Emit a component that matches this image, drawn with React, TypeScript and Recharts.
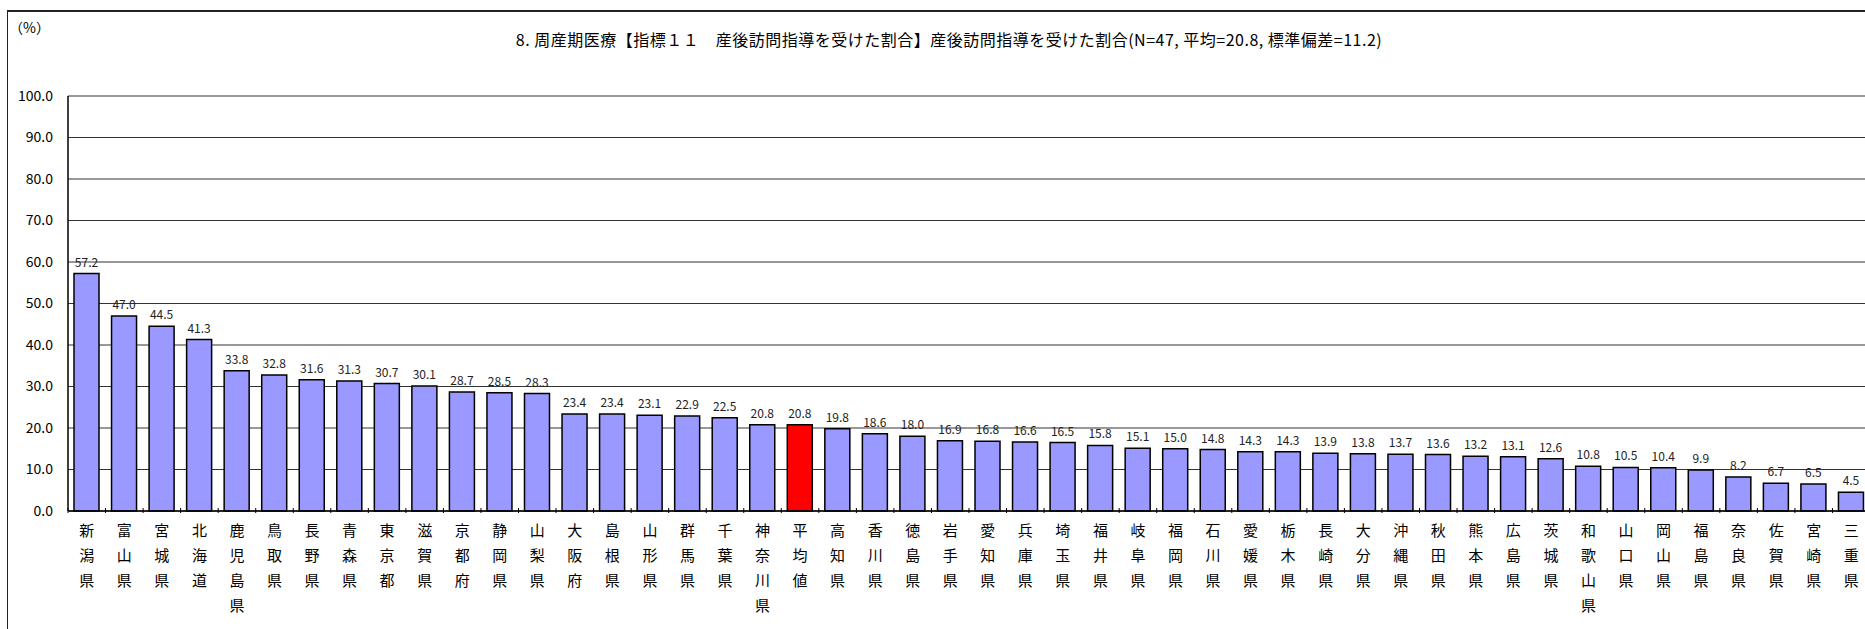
import React from 'react';
import { BarChart, Bar, XAxis, YAxis, CartesianGrid, Cell, LabelList } from 'recharts';

// --- data ---
const prefectures = [
  '新潟県', '富山県', '宮城県', '北海道', '鹿児島県', '鳥取県', '長野県', '青森県', '東京都', '滋賀県',
  '京都府', '静岡県', '山梨県', '大阪府', '島根県', '山形県', '群馬県', '千葉県', '神奈川県', '平均値',
  '高知県', '香川県', '徳島県', '岩手県', '愛知県', '兵庫県', '埼玉県', '福井県', '岐阜県', '福岡県',
  '石川県', '愛媛県', '栃木県', '長崎県', '大分県', '沖縄県', '秋田県', '熊本県', '広島県', '茨城県',
  '和歌山県', '山口県', '岡山県', '福島県', '奈良県', '佐賀県', '宮崎県', '三重県',
];

const rates = [
  57.2, 47.0, 44.5, 41.3, 33.8, 32.8, 31.6, 31.3, 30.7, 30.1,
  28.7, 28.5, 28.3, 23.4, 23.4, 23.1, 22.9, 22.5, 20.8, 20.8,
  19.8, 18.6, 18.0, 16.9, 16.8, 16.6, 16.5, 15.8, 15.1, 15.0,
  14.8, 14.3, 14.3, 13.9, 13.8, 13.7, 13.6, 13.2, 13.1, 12.6,
  10.8, 10.5, 10.4, 9.9, 8.2, 6.7, 6.5, 4.5,
];

const yTicks = [0, 10, 20, 30, 40, 50, 60, 70, 80, 90, 100];
const averageLabel = '平均値';

const title = '8. 周産期医療【指標１１　産後訪問指導を受けた割合】産後訪問指導を受けた割合(N=47, 平均=20.8, 標準偏差=11.2)';

const data = prefectures.map((name, i) => ({ name, value: rates[i] }));

const FONT = '"Noto Sans CJK JP", "Noto Sans", sans-serif';

const CHART_W = 1880;
const CHART_H = 629;
const PLOT_LEFT = 68;
const PLOT_RIGHT_MARGIN = 10;
const HALF_BAND = (CHART_W - PLOT_LEFT - PLOT_RIGHT_MARGIN) / prefectures.length / 2;

// vertical (tategaki) category label
const VerticalTick = (props: any) => {
  const { x, y, payload } = props;
  const chars = String(payload.value).split('');
  return (
    <g>
      <line x1={x - HALF_BAND} x2={x - HALF_BAND} y1={y - 6} y2={y - 11} stroke="#000" strokeWidth={1} />
      {chars.map((c, i) => (
        <text key={i} x={x} y={y + 10 + i * 25} textAnchor="middle" dominantBaseline="central"
          fontSize={15} fill="#000" fontFamily={FONT}>
          {c}
        </text>
      ))}
    </g>
  );
};

export default function App() {
  return (
    <div style={{ position: 'absolute', left: 0, top: 0, width: 1865, height: 629, overflow: 'hidden', background: '#fff' }}>
      <div style={{ position: 'absolute', left: 7, top: 10, width: 1900, height: 700, borderLeft: '1.5px solid #222', borderTop: '2px solid #222' }} />
      <div style={{ position: 'absolute', left: 9, top: 17, fontSize: 14, fontFamily: FONT, color: '#000' }}>（%）</div>
      <div style={{ position: 'absolute', left: 0, top: 27, width: 1898, textAlign: 'center', fontSize: 16, letterSpacing: 0.5, fontFamily: FONT, color: '#000', whiteSpace: 'nowrap' }}>
        {title}
      </div>
      <div style={{ position: 'absolute', left: 0, top: 0 }}>
        <BarChart width={CHART_W} height={CHART_H} data={data}
          margin={{ top: 96, right: PLOT_RIGHT_MARGIN, bottom: 0, left: 0 }}>
          <CartesianGrid vertical={false} stroke="#333" strokeWidth={1.2} />
          <XAxis dataKey="name" interval={0} height={118} tickLine={false}
            axisLine={{ stroke: '#000', strokeWidth: 1.5 }} tick={<VerticalTick />} />
          <YAxis width={PLOT_LEFT} domain={[0, 100]} ticks={yTicks} interval={0}
            tickFormatter={(v: number) => v.toFixed(1)} tickLine={false} tickMargin={9}
            axisLine={{ stroke: '#000', strokeWidth: 1.5 }}
            tick={{ fontSize: 14, fill: '#000', fontFamily: FONT }} />
          <Bar dataKey="value" barSize={25} stroke="#000" strokeWidth={1.5} isAnimationActive={false}>
            {data.map((d, i) => (
              <Cell key={`cell-${i}`} fill={d.name === averageLabel ? '#FF0000' : '#9999FF'} />
            ))}
            <LabelList dataKey="value" position="top" offset={7}
              formatter={(v: any) => Number(v).toFixed(1)}
              style={{ fontSize: 12, fill: '#222', fontFamily: FONT }} />
          </Bar>
        </BarChart>
      </div>
    </div>
  );
}
